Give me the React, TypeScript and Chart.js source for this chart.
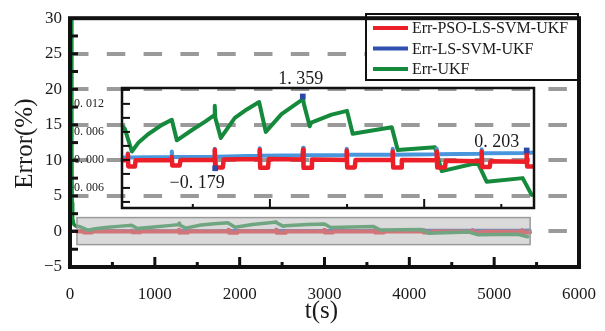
import { useEffect, useRef } from 'react';
import { Chart, registerables } from 'chart.js';

Chart.register(...registerables);

// Relative estimation error (%) versus time (s)
const SERIES_NAMES = ['Err-PSO-LS-SVM-UKF', 'Err-LS-SVM-UKF', 'Err-UKF'];

// UKF start-up transient
const UKF_START_T = [18, 22, 26, 32, 45, 70];
const UKF_START_ERR = [30, 12, 4, 1.8, 1.0, 0.75];

const UKF_T = [
  90, 120, 210, 300, 420, 600, 728, 793, 990, 1160, 1280, 1285, 1292, 1363, 1545, 1700,
  1860, 1946, 2150, 2410, 2426, 2440, 2516, 2535, 2800, 3000, 3073, 3580, 3657, 4140,
  4228, 4694, 4811, 5277, 5394,
];
const UKF_ERR = [
  0.72, 0.66, 0.18, 0.38, 0.55, 0.75, 0.86, 0.42, 0.64, 0.82, 0.96, 1.16, 0.9, 0.47, 0.9, 1.08,
  1.24, 0.6, 0.98, 1.28, 1.359, 1.2, 0.72, 0.8, 0.97, 1.05, 0.56, 0.7, 0.21, 0.27,
  -0.24, -0.06, -0.47, -0.39, -0.75,
];

const LSSVM_T = [
  82, 150, 158, 166, 720, 728, 736, 1278, 1285, 1290, 1300, 1860, 1868, 1876, 2422, 2430, 2438,
  2988, 2996, 3004, 3585, 3592, 3600, 4156, 4163, 4171, 4739, 4746, 4754, 5322, 5329, 5336, 5420,
];
const LSSVM_ERR = [
  0.05, 0.05, 0.14, 0.05, 0.06, 0.18, 0.06, 0.06, 0.24, -0.179, 0.07, 0.09, 0.25, 0.09, 0.1, 0.26, 0.1,
  0.1, 0.24, 0.11, 0.11, 0.24, 0.11, 0.12, 0.24, 0.12, 0.13, 0.23, 0.14, 0.15, 0.203, 0.15, 0.16,
];

const PSO_T = [
  82, 150, 158, 164, 250, 258, 720, 728, 734, 830, 840, 1278, 1285, 1291, 1390, 1400,
  1860, 1868, 1874, 1975, 1985, 2422, 2430, 2436, 2535, 2545, 2988, 2996, 3002, 3100, 3110,
  3585, 3592, 3598, 3700, 3710, 4156, 4163, 4169, 4270, 4280, 4739, 4746, 4752, 4850, 4860,
  5322, 5329, 5335, 5420,
];
const PSO_ERR = [
  -0.01, -0.01, 0.12, -0.14, -0.14, -0.01, 0.0, 0.06, -0.12, -0.12, 0.0, 0.0, 0.22, -0.16, -0.16, 0.01,
  0.02, 0.22, -0.17, -0.17, 0.02, 0.01, 0.22, -0.17, -0.17, 0.01, 0.0, 0.2, -0.16, -0.16, 0.0,
  0.0, 0.18, -0.16, -0.16, 0.0, -0.01, 0.18, -0.16, -0.16, -0.02, -0.03, 0.18, -0.15, -0.15, -0.03,
  -0.04, 0.15, -0.14, -0.14,
];

// Data tips shown in the magnified view
const TIP_T = [2426, 1290, 5329];
const TIP_ERR = [1.359, -0.179, 0.203];

// Axes
const X_TICKS = [0, 1000, 2000, 3000, 4000, 5000, 6000];
const Y_TICKS = [-5, 0, 5, 10, 15, 20, 25, 30];
const INSET_Y_TICKS = [-0.6, 0, 0.6, 1.2];
const ZOOM_T = [82, 5424];
const ZOOM_ERR = [-1.85, 1.95];
const INSET_ERR_RANGE = [-1.03, 1.54];

const RED = '#ec1f28';
const BLUE_DARK = '#3050b0';
const BLUE_LIGHT = '#4a96dc';
const GREEN = '#168a3c';
const TIP_BLUE = '#2c48a8';
const SERIF = '"Liberation Serif", "Times New Roman", serif';

const W = 605;
const H = 331;

const pairs = (ts: number[], vs: number[]) => ts.map((t, i) => ({ x: t, y: vs[i] }));
const minus = (s: string) => s.replace('-', '\u2212');
const fmtTip = (v: number) => minus(v.toFixed(3).replace('.', '. '));

const line = (ctx: CanvasRenderingContext2D, x1: number, y1: number, x2: number, y2: number) => {
  ctx.beginPath();
  ctx.moveTo(x1, y1);
  ctx.lineTo(x2, y2);
  ctx.stroke();
};

const mainDecor = {
  id: 'mainDecor',
  afterDatasetsDraw(chart: any) {
    const { ctx } = chart;
    const xs = chart.scales.x;
    const ys = chart.scales.y;
    const x1 = xs.getPixelForValue(ZOOM_T[0]);
    const x2 = xs.getPixelForValue(ZOOM_T[1]);
    const y1 = ys.getPixelForValue(ZOOM_ERR[1]);
    const y2 = ys.getPixelForValue(ZOOM_ERR[0]);
    ctx.save();
    ctx.fillStyle = 'rgba(188,188,188,0.55)';
    ctx.fillRect(x1, y1, x2 - x1, y2 - y1);
    ctx.strokeStyle = '#9a9a9a';
    ctx.lineWidth = 1.5;
    ctx.strokeRect(x1, y1, x2 - x1, y2 - y1);
    ctx.restore();
  },
  afterDraw(chart: any) {
    const { ctx, chartArea } = chart;
    const { left, right, top, bottom } = chartArea;
    const xs = chart.scales.x;
    const ys = chart.scales.y;
    ctx.save();

    // legend
    const lx = 366;
    const ly = 14;
    ctx.fillStyle = '#fff';
    ctx.fillRect(lx, ly, 212, 66);
    ctx.strokeStyle = '#111';
    ctx.lineWidth = 2;
    ctx.strokeRect(lx, ly, 212, 66);
    const colors = [RED, BLUE_DARK, GREEN];
    ctx.font = `16px ${SERIF}`;
    ctx.textBaseline = 'middle';
    ctx.textAlign = 'left';
    SERIES_NAMES.forEach((name, i) => {
      const yy = ly + 14 + i * 20.5;
      ctx.strokeStyle = colors[i];
      ctx.lineWidth = 4;
      line(ctx, lx + 7, yy, lx + 42, yy);
      ctx.fillStyle = '#1a1a1a';
      ctx.fillText(name, lx + 46, yy + 1);
    });

    // frame
    ctx.strokeStyle = '#111';
    ctx.lineWidth = 4;
    ctx.strokeRect(left, top, right - left, bottom - top);

    // inward tick marks
    ctx.lineWidth = 3;
    for (let t = 500; t < 6000; t += 500) {
      const px = xs.getPixelForValue(t);
      line(ctx, px, bottom, px, bottom - (t % 1000 === 0 ? 10 : 5));
    }
    for (let v = -2.5; v < 30; v += 2.5) {
      const py = ys.getPixelForValue(v);
      line(ctx, left, py, left + 8, py);
    }

    // axis titles
    ctx.fillStyle = '#1a1a1a';
    ctx.font = `25px ${SERIF}`;
    ctx.textAlign = 'center';
    ctx.textBaseline = 'middle';
    ctx.fillText('t(s)', (left + right) / 2 - 3, 311);
    ctx.translate(25, (top + bottom) / 2 + 1);
    ctx.rotate(-Math.PI / 2);
    ctx.fillText('Error(%)', 0, 0);
    ctx.restore();
  },
};

const TIP_OFFSETS = [
  [-2, -17],
  [-18, 15],
  [-30, -8],
];

const insetDecor = {
  id: 'insetDecor',
  afterDraw(chart: any) {
    const { ctx, chartArea } = chart;
    const { left, right, top, bottom } = chartArea;
    const xs = chart.scales.x;
    const ys = chart.scales.y;
    ctx.save();
    ctx.strokeStyle = '#111';
    ctx.lineWidth = 2.5;
    ctx.strokeRect(left, top, right - left, bottom - top);
    ctx.lineWidth = 2;
    for (let t = 1000; t <= 5000; t += 1000) {
      const px = xs.getPixelForValue(t);
      line(ctx, px, bottom, px, bottom - (t % 2000 === 0 ? 9 : 4));
    }
    for (let k = -3; k <= 5; k++) {
      const py = ys.getPixelForValue(k * 0.3);
      line(ctx, left, py, left + 8, py);
    }
    // data tip labels
    ctx.fillStyle = '#1a1a1a';
    ctx.font = `18px ${SERIF}`;
    ctx.textAlign = 'center';
    ctx.textBaseline = 'middle';
    TIP_T.forEach((t, i) => {
      const px = xs.getPixelForValue(t) + TIP_OFFSETS[i][0];
      const py = ys.getPixelForValue(TIP_ERR[i]) + TIP_OFFSETS[i][1];
      ctx.fillText(fmtTip(TIP_ERR[i]), px, py);
    });
    ctx.restore();
  },
};

export default function App() {
  const mainRef = useRef<HTMLCanvasElement>(null);
  const insetRef = useRef<HTMLCanvasElement>(null);

  useEffect(() => {
    const lineSet = (label: string, data: any[], color: string, width: number, order: number) => ({
      label,
      data,
      borderColor: color,
      backgroundColor: color,
      borderWidth: width,
      borderJoinStyle: 'round',
      borderCapStyle: 'round',
      showLine: true,
      pointRadius: 0,
      tension: 0,
      order,
    });

    const main = new Chart(mainRef.current!, {
      type: 'scatter',
      data: {
        datasets: [
          lineSet(SERIES_NAMES[0], pairs(PSO_T, PSO_ERR), RED, 4, 1),
          lineSet(SERIES_NAMES[1], pairs(LSSVM_T, LSSVM_ERR), BLUE_DARK, 3.5, 2),
          lineSet(
            SERIES_NAMES[2],
            pairs(UKF_START_T.concat(UKF_T), UKF_START_ERR.concat(UKF_ERR)),
            GREEN,
            3.5,
            0,
          ),
        ],
      },
      options: {
        animation: false,
        responsive: false,
        layout: { padding: { left: 0, top: 13, right: 25, bottom: 0 } },
        plugins: { legend: { display: false }, tooltip: { enabled: false } },
        scales: {
          x: {
            type: 'linear',
            min: 0,
            max: 6000,
            afterFit: (s: any) => {
              s.height = 64;
            },
            afterBuildTicks: (s: any) => {
              s.ticks = X_TICKS.map((v) => ({ value: v }));
            },
            ticks: {
              font: { family: SERIF, size: 17 },
              color: '#1a1a1a',
              padding: 9,
              maxRotation: 0,
              callback: (v: any) => String(v),
            },
            grid: { display: false },
            border: { display: false },
          },
          y: {
            type: 'linear',
            min: -5,
            max: 30,
            afterFit: (s: any) => {
              s.width = 70;
            },
            afterBuildTicks: (s: any) => {
              s.ticks = Y_TICKS.map((v) => ({ value: v }));
            },
            ticks: {
              font: { family: SERIF, size: 17 },
              color: '#1a1a1a',
              padding: 8,
              callback: (v: any) => minus(String(v)),
            },
            grid: {
              drawTicks: false,
              lineWidth: 4,
              color: (c: any) =>
                c.tick && c.tick.value > -5 && c.tick.value < 30 ? '#9a9a9a' : 'rgba(0,0,0,0)',
            },
            border: { display: false, dash: [18.5, 18.3] },
          },
        },
      },
      plugins: [mainDecor],
    } as any);

    const inset = new Chart(insetRef.current!, {
      type: 'scatter',
      data: {
        datasets: [
          {
            label: 'tips',
            data: pairs(TIP_T, TIP_ERR),
            pointStyle: 'rect',
            pointRadius: 4,
            backgroundColor: TIP_BLUE,
            borderWidth: 0,
            showLine: false,
            order: 0,
          },
          lineSet(SERIES_NAMES[0], pairs(PSO_T, PSO_ERR), RED, 4.5, 1),
          lineSet(SERIES_NAMES[1], pairs(LSSVM_T, LSSVM_ERR), BLUE_LIGHT, 4, 2),
          lineSet(SERIES_NAMES[2], pairs(UKF_T, UKF_ERR), GREEN, 4, 3),
        ],
      },
      options: {
        animation: false,
        responsive: false,
        layout: { padding: { left: 0, top: 88, right: W - 534, bottom: 0 } },
        plugins: { legend: { display: false }, tooltip: { enabled: false } },
        scales: {
          x: {
            type: 'linear',
            min: ZOOM_T[0],
            max: ZOOM_T[1],
            afterFit: (s: any) => {
              s.height = H - 208;
            },
            ticks: { display: false },
            grid: { display: false },
            border: { display: false },
          },
          y: {
            type: 'linear',
            min: INSET_ERR_RANGE[0],
            max: INSET_ERR_RANGE[1],
            afterFit: (s: any) => {
              s.width = 122;
            },
            afterBuildTicks: (s: any) => {
              s.ticks = INSET_Y_TICKS.map((v) => ({ value: v }));
            },
            ticks: {
              font: { family: SERIF, size: 12 },
              color: '#1a1a1a',
              padding: 10,
              // tick labels are given as fractions rather than percent
              callback: (v: any) => fmtTip(Number(v) / 100),
            },
            grid: { display: false },
            border: { display: false },
          },
        },
      },
      plugins: [insetDecor],
    } as any);

    return () => {
      main.destroy();
      inset.destroy();
    };
  }, []);

  return (
    <div style={{ position: 'fixed', left: 0, top: 0, width: W, height: H, background: '#fff' }}>
      <canvas
        ref={mainRef}
        width={W}
        height={H}
        style={{ position: 'absolute', left: 0, top: 0, width: W, height: H }}
      />
      <canvas
        ref={insetRef}
        width={W}
        height={H}
        style={{ position: 'absolute', left: 0, top: 0, width: W, height: H }}
      />
    </div>
  );
}
